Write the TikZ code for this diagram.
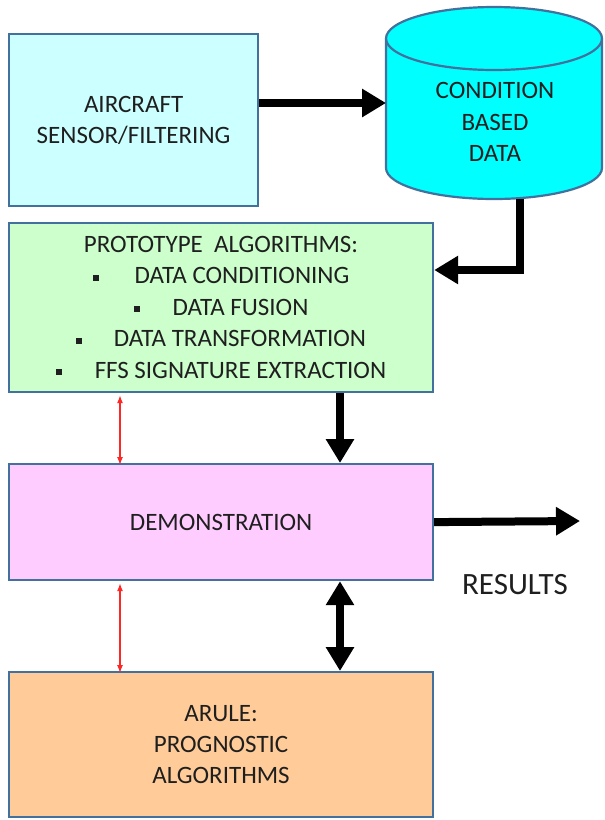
\documentclass[tikz,border=0pt]{standalone}
\usepackage{fontspec}
\setmainfont{Carlito}
\usetikzlibrary{arrows.meta}
\definecolor{bordc}{HTML}{41719C}
\definecolor{cyanA}{HTML}{CCFFFF}
\definecolor{cyanB}{HTML}{00FFFF}
\definecolor{greenA}{HTML}{CCFFCC}
\definecolor{pinkA}{HTML}{FFCCFF}
\definecolor{orangeA}{HTML}{FFCC99}
\tikzset{
  box/.style={draw=bordc, line width=2.2pt, inner sep=0pt, anchor=north west, align=center,
    font=\fontsize{25}{31}\selectfont, text=black!88},
  bigarrow/.style={line width=8pt, -{Triangle[width=27pt,length=24pt]}},
  bigdarrow/.style={line width=8pt, {Triangle[width=27pt,length=24pt]}-{Triangle[width=27pt,length=24pt]}},
  redarrow/.style={red!85, line width=1.2pt, {Latex[length=8pt,width=6pt]}-{Latex[length=8pt,width=6pt]}},
}
\newcommand{\bul}{\rule[3pt]{6pt}{6pt}}
\begin{document}
\begin{tikzpicture}[x=1pt,y=-1pt]
\useasboundingbox (0,0) rectangle (605,820);
% aircraft box
\node[box, fill=cyanA, minimum width=249pt, minimum height=172pt] (air) at (8,33) {AIRCRAFT\\SENSOR/FILTERING};
% cylinder
\filldraw[fill=cyanB, draw=bordc, line width=2.2pt]
  (386,38.5) -- (386,168) arc[start angle=180, end angle=0, x radius=108, y radius=31]
  -- (602,38.5) arc[start angle=0, end angle=-180, x radius=108, y radius=31.5] -- cycle;
\draw[draw=bordc, line width=2.2pt] (386,38.5) arc[start angle=180, end angle=0, x radius=108, y radius=31.5];
\node[font=\fontsize{25}{31.5}\selectfont, text=black!88, align=center] (cbd) at (495,122) {CONDITION\\BASED\\DATA};
\coordinate (cylL) at (386,103);
\coordinate (cylB) at (520,199);
% green box
\node[box, fill=greenA, minimum width=424pt, minimum height=169pt] (proto) at (8,222) {};
\node[font=\fontsize{25}{31.5}\selectfont, text=black!88, align=center] (ptext) at (221,307)
  {PROTOTYPE\ \ ALGORITHMS:\\
   \bul\hspace{36pt}DATA CONDITIONING\\
   \bul\hspace{33pt}DATA FUSION\\
   \bul\hspace{32pt}DATA TRANSFORMATION\\
   \bul\hspace{33pt}FFS SIGNATURE EXTRACTION};
% demonstration
\node[box, fill=pinkA, minimum width=424pt, minimum height=116pt] (demo) at (8,463) {DEMONSTRATION};
% arule
\node[box, fill=orangeA, minimum width=424pt, minimum height=145pt] (arule) at (8,671) {ARULE:\\PROGNOSTIC\\ALGORITHMS};
% results
\node[font=\fontsize{31}{36}\selectfont, text=black!88] (res) at (515,585) {RESULTS};
\coordinate (resend) at (580,521);
% connectors
\draw[bigarrow] (air.east |- cylL) -- (cylL);
\draw[bigarrow] (cylB) -- (520,270) -- (proto.east |- 0,270);
\draw[bigarrow] (proto.south -| 340,0) -- (demo.north -| 340,0);
\draw[bigdarrow] (demo.south -| 340,0) -- (arule.north -| 340,0);
\draw[bigarrow] (demo.east) -- (resend);
\draw[redarrow] (proto.south -| 120,0) ++(0,2) -- ([yshift=-2pt]demo.north -| 120,0);
\draw[redarrow] (demo.south -| 120,0) ++(0,2) -- ([yshift=-2pt]arule.north -| 120,0);
\end{tikzpicture}
\end{document}
